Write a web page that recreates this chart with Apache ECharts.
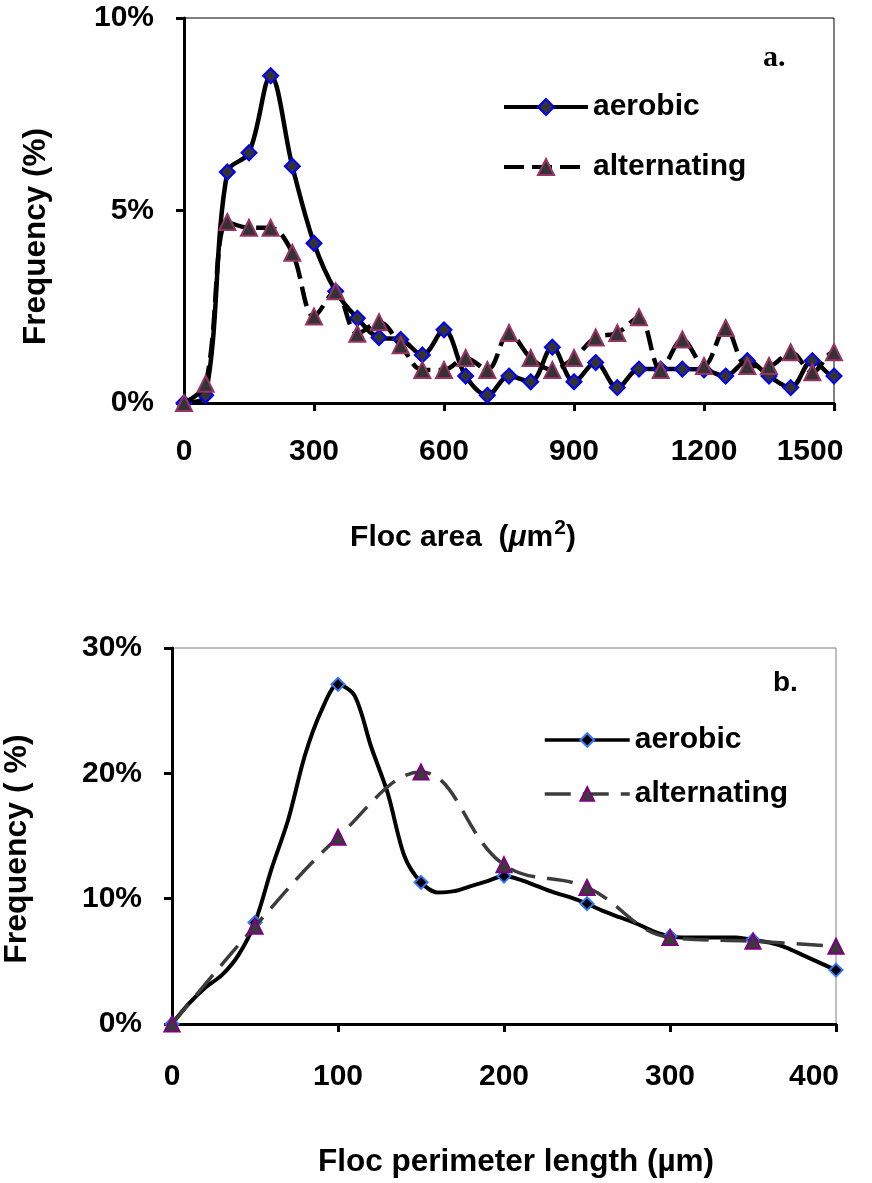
<!DOCTYPE html>
<html>
<head>
<meta charset="utf-8">
<title>Floc size distributions</title>
<script src="https://cdn.jsdelivr.net/npm/echarts@6/dist/echarts.min.js"></script>
<style>
  html, body { margin: 0; padding: 0; background: #fff; }
  #area  { position: absolute; left: 0; top: 0;     width: 872px; height: 590px; }
  #perim { position: absolute; left: 0; top: 590px; width: 872px; height: 593px; }
</style>
</head>
<body>
<div id="area"></div>
<div id="perim"></div>
<script>
// ---- panel a: floc area distribution (µm², frequency in %) ----
const areaBins = [0, 50, 100, 150, 200, 250, 300, 350, 400, 450, 500, 550, 600, 650, 700, 750,
  800, 850, 900, 950, 1000, 1050, 1100, 1150, 1200, 1250, 1300, 1350, 1400, 1450, 1500, 1550];
const aerobicArea = [0, 0.2, 6.0, 6.5, 8.5, 6.15, 4.15, 2.9, 2.2, 1.7, 1.65, 1.25, 1.9, 0.7, 0.2, 0.7,
  0.55, 1.45, 0.55, 1.05, 0.4, 0.88, 0.88, 0.88, 0.86, 0.7, 1.1, 0.7, 0.4, 1.1, 0.7, 1.0];
const alternatingArea = [0, 0.5, 4.7, 4.55, 4.55, 3.9, 2.25, 2.9, 1.8, 2.1, 1.5, 0.86, 0.86, 1.17, 0.86, 1.82,
  1.17, 0.86, 1.17, 1.7, 1.82, 2.23, 0.86, 1.65, 0.96, 1.95, 0.96, 0.96, 1.32, 0.8, 1.32, 1.2];
const areaTicks = { min: 0, max: 1500, step: 300 };
const areaFreqTicks = { min: 0, max: 10, step: 5 };

// ---- panel b: floc perimeter distribution (µm, frequency in %) ----
const perimBinsFine = [0, 10, 20, 30, 40, 50, 60, 70, 80, 90, 100, 110, 120, 130, 140, 150, 160, 170, 180, 190,
  200, 210, 220, 230, 240, 250, 260, 270, 280, 290, 300, 310, 320, 330, 340, 350, 360, 370, 380, 390, 400];
const aerobicPerim = [0, 1.6, 2.9, 3.9, 5.5, 8.1, 12.4, 16.3, 21.4, 25.0, 27.1, 26.2, 22.1, 18.4, 13.4, 11.3, 10.5, 10.6, 11.0, 11.4,
  11.8, 11.5, 11.0, 10.5, 10.1, 9.6, 9.0, 8.5, 8.0, 7.4, 7.0, 6.9, 6.9, 6.9, 6.9, 6.7, 6.5, 6.1, 5.5, 4.9, 4.3];
const perimBins = [0, 50, 100, 150, 200, 250, 300, 350, 400];
const alternatingPerim = [0, 7.8, 14.9, 20.1, 12.7, 10.9, 6.9, 6.6, 6.2];
const perimTicks = { min: 0, max: 400, step: 100 };
const perimFreqTicks = { min: 0, max: 30, step: 10 };

const FONT = "'Liberation Sans', Arial, sans-serif";
const pairs = (xs, ys) => xs.map((x, i) => [x, ys[i]]);

// the last x label is pulled back inside the frame by a right-padded rich box
function xLabelFormatter(max) {
  return v => (v === max ? '{last|' + v + '}' : String(v));
}

function axisBase(t, labelMargin, extra) {
  return Object.assign({
    type: 'value',
    min: t.min, max: t.max, interval: t.step,
    splitLine: { show: false },
    axisLine: { show: true, onZero: false, lineStyle: { color: '#000', width: 3 } },
    axisTick: { show: true, inside: false, length: 8, lineStyle: { color: '#000', width: 3 } },
    axisLabel: { show: true, margin: labelMargin, color: '#000', fontFamily: FONT, fontWeight: 'bold', fontSize: 30,
                 formatter: v => String(v) },
    nameLocation: 'middle',
    nameTextStyle: { color: '#000', fontFamily: FONT, fontWeight: 'bold', fontSize: 30 }
  }, extra);
}

const legendText = { color: '#000', fontFamily: FONT, fontWeight: 'bold', fontSize: 30, lineHeight: 32 };

// ---------- chart a ----------
const chartA = echarts.init(document.getElementById('area'), null, { renderer: 'canvas' });
const xa = axisBase(areaTicks, 34, {
  name: 'Floc area  ({mu|μ}m{sup|2})',
  nameGap: 115
});
xa.axisLabel.formatter = xLabelFormatter(areaTicks.max);
xa.axisLabel.rich = {
  last: { fontFamily: FONT, fontWeight: 'bold', fontSize: 30, color: '#000', padding: [0, 48, 0, 0] }
};
xa.nameTextStyle.padding = [0, 92, 0, 0];
xa.nameTextStyle.rich = {
  mu: { fontFamily: FONT, fontWeight: 'bold', fontStyle: 'italic', fontSize: 30, color: '#000' },
  sup: { fontFamily: FONT, fontWeight: 'bold', fontSize: 21, color: '#000', verticalAlign: 'bottom', padding: [0, 0, 18, 1] }
};
const ya = axisBase(areaFreqTicks, 30, { name: 'Frequency (%)', nameGap: 132 });
ya.axisLabel.formatter = '{value}%';
ya.nameTextStyle.fontSize = 31.5;
ya.nameTextStyle.padding = [0, 52, 0, 0];

chartA.setOption({
  animation: false,
  backgroundColor: '#fff',
  title: {
    left: 758, top: 38,
    text: '{b|a}{n|.}',
    textStyle: { rich: {
      b: { fontFamily: "'Liberation Serif', 'Times New Roman', serif", fontWeight: 'bold', fontSize: 30, color: '#000' },
      n: { fontFamily: "'Liberation Serif', 'Times New Roman', serif", fontSize: 30, color: '#000' }
    } }
  },
  grid: { left: 184, top: 18, width: 650, height: 385, show: true, borderColor: '#000', borderWidth: 1,
          containLabel: false, outerBoundsMode: 'none' },
  legend: {
    orient: 'vertical', left: 502, top: 91, padding: 0,
    itemWidth: 84, itemHeight: 20, itemGap: 28,
    textStyle: legendText,
    lineStyle: { width: 4 },
    data: ['aerobic', 'alternating']
  },
  xAxis: xa,
  yAxis: ya,
  series: [
    {
      name: 'aerobic', type: 'line', smooth: 0.35,
      data: pairs(areaBins, aerobicArea),
      symbol: 'diamond', symbolSize: 15,
      lineStyle: { color: '#000', width: 4.5 },
      itemStyle: { color: '#333', borderColor: '#0000ff', borderWidth: 2 },
      z: 3
    },
    {
      name: 'alternating', type: 'line', smooth: 0.35,
      data: pairs(areaBins, alternatingArea),
      symbol: 'triangle', symbolSize: 16,
      lineStyle: { color: '#000', width: 4.5, type: [20, 8] },
      itemStyle: { color: '#333', borderColor: '#993366', borderWidth: 2 },
      z: 4
    }
  ]
});

// ---------- chart b ----------
const chartB = echarts.init(document.getElementById('perim'), null, { renderer: 'canvas' });
const xb = axisBase(perimTicks, 38, {
  name: 'Floc perimeter length (µm)',
  nameGap: 122
});
xb.axisLabel.formatter = xLabelFormatter(perimTicks.max);
xb.axisLabel.rich = {
  last: { fontFamily: FONT, fontWeight: 'bold', fontSize: 30, color: '#000', padding: [0, 44, 0, 0] }
};
xb.nameTextStyle.fontSize = 31.5;
xb.nameTextStyle.padding = [0, 0, 0, 24];
const yb = axisBase(perimFreqTicks, 30, { name: 'Frequency ( %)', nameGap: 139 });
yb.axisLabel.formatter = '{value}%';
yb.nameTextStyle.fontSize = 32;
yb.nameTextStyle.padding = [0, 26, 0, 0];

chartB.setOption({
  animation: false,
  backgroundColor: '#fff',
  title: {
    left: 768, top: 74,
    text: 'b.',
    textStyle: { fontFamily: FONT, fontWeight: 'bold', fontSize: 28, color: '#000' }
  },
  grid: { left: 172, top: 58, width: 664, height: 376, show: true, borderColor: '#808080', borderWidth: 1,
          containLabel: false, outerBoundsMode: 'none' },
  legend: {
    orient: 'vertical', left: 543, top: 134, padding: 0,
    itemWidth: 85, itemHeight: 17, itemGap: 22,
    textStyle: legendText,
    lineStyle: { width: 3.5 },
    data: ['aerobic', 'alternating']
  },
  xAxis: xb,
  yAxis: yb,
  series: [
    {
      name: 'aerobic', type: 'line', smooth: 0.3,
      data: perimBinsFine.map((x, i) => ({
        value: [x, aerobicPerim[i]],
        symbol: x % 50 === 0 ? 'diamond' : 'none'
      })),
      symbol: 'diamond', symbolSize: 13,
      lineStyle: { color: '#000', width: 4 },
      itemStyle: { color: '#000', borderColor: '#3377ff', borderWidth: 2 },
      z: 3
    },
    {
      name: 'alternating', type: 'line', smooth: 0.4,
      data: pairs(perimBins, alternatingPerim),
      symbol: 'triangle', symbolSize: 15,
      lineStyle: { color: '#3c3c3c', width: 3.5, type: [26, 12] },
      itemStyle: { color: '#3a3a3a', borderColor: '#800080', borderWidth: 2 },
      z: 4
    }
  ]
});
</script>
</body>
</html>
